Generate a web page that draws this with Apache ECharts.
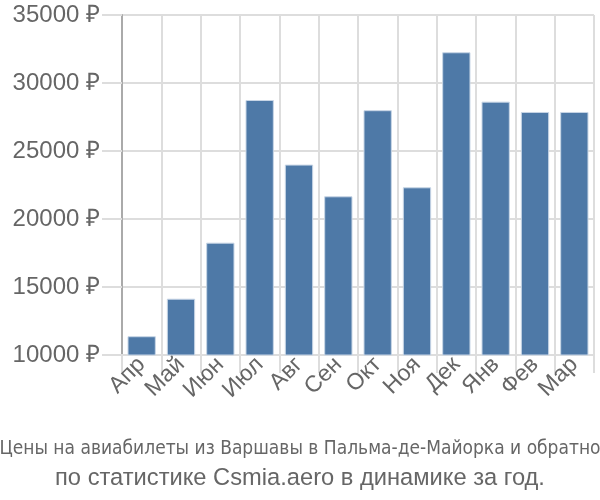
<!DOCTYPE html>
<html><head><meta charset="utf-8">
<script src="https://cdn.jsdelivr.net/npm/echarts@6/dist/echarts.min.js"></script>
<style>html,body{margin:0;padding:0;background:#fff}#c{width:600px;height:500px}</style>
</head><body><div id="c"></div>
<script>
const months = ['Апр','Май','Июн','Июл','Авг','Сен','Окт','Ноя','Дек','Янв','Фев','Мар'];
const prices = [11380, 14140, 18260, 28750, 24000, 21670, 28000, 22330, 32260, 28630, 27870, 27870];
const yTicks = [10000, 15000, 20000, 25000, 30000, 35000];
const titleLine1 = 'Цены на авиабилеты из Варшавы в Пальма-де-Майорка и обратно';
const titleLine2 = 'по статистике Csmia.aero в динамике за год.';

const chart = echarts.init(document.getElementById('c'));
chart.setOption({
  animation: false,
  title: [
    {text: titleLine1, left: 'center', top: 435, textStyle: {fontFamily: '"DejaVu Sans Condensed", "Liberation Sans"', fontSize: 19, fontWeight: 'normal', color: '#666'}},
    {text: titleLine2, left: 'center', top: 461, textStyle: {fontFamily: 'Liberation Sans', fontSize: 23.7, fontWeight: 'normal', color: '#666'}}
  ],
  grid: {left: 122, right: 6, top: 15, bottom: 145},
  xAxis: {
    type: 'category', data: months, boundaryGap: true,
    axisLine: {lineStyle: {color: '#ddd', width: 2}},
    axisTick: {show: true, length: 18, interval: 0, lineStyle: {color: '#ddd', width: 2}},
    splitLine: {show: true, interval: 0, lineStyle: {color: '#ddd', width: 2}},
    axisLabel: {rotate: 45, interval: 0, fontFamily: 'Liberation Sans', fontSize: 23, color: '#666', margin: 6}
  },
  yAxis: {
    type: 'value', min: yTicks[0], max: yTicks[yTicks.length-1], interval: 5000,
    axisLine: {show: true, lineStyle: {color: '#aaa', width: 2}},
    axisTick: {show: true, length: 20, lineStyle: {color: '#ddd', width: 2}},
    splitLine: {show: true, lineStyle: {color: '#ddd', width: 2}},
    axisLabel: {formatter: v => v + ' ₽', fontFamily: 'Liberation Sans', fontSize: 24, color: '#666', margin: 22}
  },
  series: [{
    type: 'bar', data: prices, barWidth: '72%',
    itemStyle: {color: '#4e79a7', borderColor: '#c8d6e6', borderWidth: 1}
  }]
});
</script></body></html>
